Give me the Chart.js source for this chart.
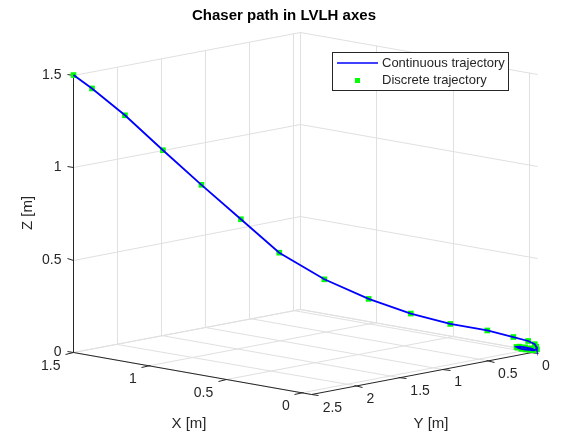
<!DOCTYPE html>
<html>
<head>
<meta charset="utf-8">
<title>Chaser path in LVLH axes</title>
<script src="https://cdn.jsdelivr.net/npm/chart.js@4"></script>
<style>
  html, body { margin: 0; padding: 0; background: #fff; }
  canvas { display: block; }
</style>
</head>
<body>
<canvas id="grafico" width="562" height="432"></canvas>
<script>
// trajectory samples in LVLH frame [m]
const trajX = [1.5, 1.438, 1.328, 1.201, 1.072, 0.940, 0.812, 0.661, 0.513, 0.372, 0.240, 0.116, 0.029,
               -0.020, -0.040, -0.048, -0.052, -0.035, -0.015, 0.005, 0.030, 0.055, 0.065, 0.050, 0.020, -0.010, -0.030];
const trajY = [2.5, 2.397, 2.213, 2.001, 1.787, 1.567, 1.353, 1.102, 0.855, 0.620, 0.400, 0.194, 0.048,
               -0.035, -0.075, -0.078, -0.079, -0.070, -0.060, -0.050, -0.045, -0.045, -0.050, -0.060, -0.070, -0.075, -0.078];
const trajZ = [1.5, 1.427, 1.281, 1.091, 0.903, 0.716, 0.534, 0.389, 0.282, 0.202, 0.145, 0.109, 0.073,
               0.051, 0.033, 0.020, 0.006, 0.0, 0.0, 0.0, 0.0, 0.003, 0.005, 0.008, 0.008, 0.006, 0.004];

const xTicks = [0, 0.5, 1, 1.5];
const yTicks = [0, 0.5, 1, 1.5, 2, 2.5];
const zTicks = [0, 0.5, 1, 1.5];
const xLim = [-0.052, 1.5];
const yLim = [-0.079, 2.5];
const zLim = [0, 1.5];

// vista 3D (az ~142.5, el ~30), proyeccion ortografica a unidades de pantalla
const ORIGEN = [525.5, 353];
const EX = [-155, -27.4];
const EY = [-89, 17.05];
const EZ = 188.1;

function proyectar(x, y, z) {
    return {
        x: ORIGEN[0] + x * EX[0] + y * EY[0],
        y: ORIGEN[1] + x * EX[1] + y * EY[1] - z * EZ
    };
}

const puntos = trajX.map((x, i) => proyectar(x, trajY[i], trajZ[i]));

const GRID = '#e0e0e0';
const EJE = '#262626';
const FUENTE = '"Liberation Sans", Arial, Helvetica, sans-serif';

function pix(chart, p) {
    return [chart.scales.x.getPixelForValue(p.x), chart.scales.y.getPixelForValue(p.y)];
}

function linea(ctx, chart, a, b, color, ancho) {
    const p = pix(chart, a), q = pix(chart, b);
    ctx.strokeStyle = color;
    ctx.lineWidth = ancho;
    ctx.beginPath();
    ctx.moveTo(Math.round(p[0]) + 0.5, Math.round(p[1]) + 0.5);
    ctx.lineTo(Math.round(q[0]) + 0.5, Math.round(q[1]) + 0.5);
    ctx.stroke();
}

const ejes3d = {
    id: 'ejes3d',
    beforeDatasetsDraw(chart) {
        const ctx = chart.ctx;
        ctx.save();
        ctx.fillStyle = '#fff';
        ctx.fillRect(0, 0, chart.width, chart.height);

        const [x0, x1] = xLim, [y0, y1] = yLim, [z0, z1] = zLim;

        // suelo z = z0
        xTicks.forEach(v => linea(ctx, chart, proyectar(v, y0, z0), proyectar(v, y1, z0), GRID, 1));
        yTicks.forEach(v => linea(ctx, chart, proyectar(x0, v, z0), proyectar(x1, v, z0), GRID, 1));
        // pared x = x1
        yTicks.forEach(v => linea(ctx, chart, proyectar(x1, v, z0), proyectar(x1, v, z1), GRID, 1));
        zTicks.forEach(v => linea(ctx, chart, proyectar(x1, y0, v), proyectar(x1, y1, v), GRID, 1));
        // pared y = y0
        xTicks.forEach(v => linea(ctx, chart, proyectar(v, y0, z0), proyectar(v, y0, z1), GRID, 1));
        zTicks.forEach(v => linea(ctx, chart, proyectar(x0, y0, v), proyectar(x1, y0, v), GRID, 1));
        // aristas del fondo
        linea(ctx, chart, proyectar(x1, y0, z0), proyectar(x1, y0, z1), GRID, 1);
        linea(ctx, chart, proyectar(x0, y0, z0), proyectar(x1, y0, z0), GRID, 1);

        // ejes
        linea(ctx, chart, proyectar(x1, y1, z0), proyectar(x1, y1, z1), EJE, 1);
        linea(ctx, chart, proyectar(x1, y1, z0), proyectar(x0, y1, z0), EJE, 1);
        linea(ctx, chart, proyectar(x0, y1, z0), proyectar(x0, y0, z0), EJE, 1);

        ctx.font = '14px ' + FUENTE;
        ctx.fillStyle = EJE;

        // eje X
        ctx.textAlign = 'right';
        ctx.textBaseline = 'middle';
        xTicks.forEach(v => {
            linea(ctx, chart, proyectar(v, y1, z0), proyectar(v, y1 + 0.1, z0), EJE, 1);
            const p = pix(chart, proyectar(v, y1, z0));
            ctx.fillText(String(v), p[0] - 13, p[1] + 14);
        });
        // eje Y
        ctx.textAlign = 'left';
        yTicks.forEach(v => {
            linea(ctx, chart, proyectar(x0, v, z0), proyectar(x0 - 0.05, v, z0), EJE, 1);
            const p = pix(chart, proyectar(x0, v, z0));
            ctx.fillText(String(v), p[0] + 12, p[1] + 14);
        });
        // eje Z
        ctx.textAlign = 'right';
        zTicks.forEach(v => {
            linea(ctx, chart, proyectar(x1, y1, v), proyectar(x1 + 0.045, y1, v), EJE, 1);
            const p = pix(chart, proyectar(x1, y1, v));
            ctx.fillText(String(v), p[0] - 12, p[1]);
        });

        // etiquetas de los ejes
        ctx.font = '15px ' + FUENTE;
        ctx.textAlign = 'center';
        ctx.fillText('X [m]', 189, 424);
        ctx.fillText('Y [m]', 431, 424);
        ctx.save();
        ctx.translate(28, 213);
        ctx.rotate(-Math.PI / 2);
        ctx.fillText('Z [m]', 0, 0);
        ctx.restore();

        ctx.restore();
    },
    afterDraw(chart) {
        const ctx = chart.ctx;
        ctx.save();
        // titulo
        ctx.fillStyle = '#000';
        ctx.font = 'bold 15px ' + FUENTE;
        ctx.textAlign = 'center';
        ctx.textBaseline = 'middle';
        ctx.fillText('Chaser path in LVLH axes', 284, 16);

        // leyenda
        ctx.fillStyle = '#fff';
        ctx.fillRect(332, 52, 176, 38);
        ctx.strokeStyle = EJE;
        ctx.lineWidth = 1;
        ctx.strokeRect(332.5, 52.5, 176, 38);
        ctx.strokeStyle = '#0000ff';
        ctx.lineWidth = 1.5;
        ctx.beginPath();
        ctx.moveTo(337, 63);
        ctx.lineTo(378, 63);
        ctx.stroke();
        ctx.fillStyle = '#00ff00';
        ctx.fillRect(355, 78, 5, 5);
        ctx.fillStyle = EJE;
        ctx.font = '13px ' + FUENTE;
        ctx.textAlign = 'left';
        ctx.fillText('Continuous trajectory', 382, 63);
        ctx.fillText('Discrete trajectory', 382, 80);
        ctx.restore();
    }
};

new Chart(document.getElementById('grafico'), {
    type: 'scatter',
    data: {
        datasets: [
            {
                label: 'Continuous trajectory',
                data: puntos,
                showLine: true,
                borderColor: '#0000ff',
                borderWidth: 1.8,
                pointRadius: 0,
                order: 1
            },
            {
                label: 'Discrete trajectory',
                data: puntos,
                showLine: false,
                pointStyle: 'rect',
                pointRadius: 4,
                backgroundColor: '#00ff00',
                borderColor: '#00ff00',
                borderWidth: 0,
                order: 2
            }
        ]
    },
    options: {
        responsive: false,
        animation: false,
        devicePixelRatio: 1,
        layout: { padding: 0 },
        plugins: { legend: { display: false }, tooltip: { enabled: false } },
        scales: {
            x: { type: 'linear', min: 0, max: 562, display: false },
            y: { type: 'linear', min: 0, max: 432, reverse: true, display: false }
        }
    },
    plugins: [ejes3d]
});
</script>
</body>
</html>
